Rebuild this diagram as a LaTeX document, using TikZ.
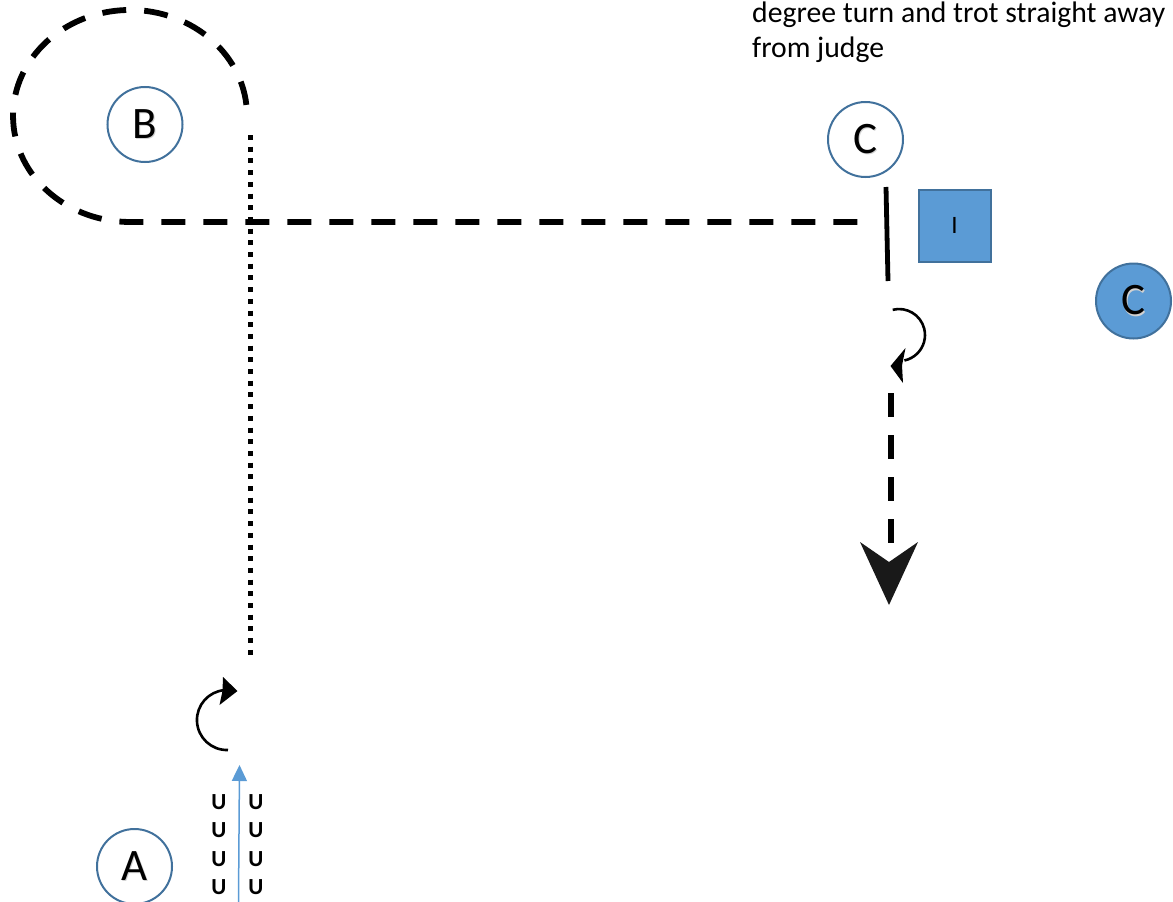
\documentclass[tikz,border=0pt]{standalone}
\usepackage{fontspec}
\setmainfont{Carlito}
\usetikzlibrary{arrows.meta}
\definecolor{bfill}{HTML}{5B9BD5}
\definecolor{bline}{HTML}{41719C}
\newcommand\shadowed[1]{\leavevmode\rlap{\kern1.2pt\raisebox{-1.5pt}{\textcolor{black!18}{#1}}}#1}
\tikzset{
 marker/.style={circle, draw=bline, line width=2pt, fill=white, minimum size=75pt, inner sep=0pt, font=\fontsize{45}{45}\selectfont},
 markerfill/.style={marker, fill=bfill},
 judgebox/.style={draw=bline, line width=2pt, fill=bfill, minimum width=72pt, minimum height=72pt, inner sep=0pt, font=\fontsize{25}{25}\selectfont},
 pathdash/.style={line width=5.8pt, dash pattern=on 24pt off 18pt},
 pathdot/.style={line width=5.5pt, dash pattern=on 5pt off 6.7pt},
 turn/.style={line width=2.6pt},
 turnhead/.style={fill=black},
 ulabel/.style={font=\fontsize{23}{23}\selectfont\bfseries, inner sep=0pt},
 note/.style={anchor=base west, inner sep=0pt, font=\fontsize{29.7}{34.5}\selectfont},
}
\begin{document}
\begin{tikzpicture}[x=1pt,y=1pt]
\useasboundingbox (0,0) rectangle (1173,-902);
% text
\node[note] (t1) at (752,-22.5) {degree turn and trot straight away};
\node[note] (t2) at (752,-57) {from judge};
% dashed loop and horizontal line
\coordinate (loopstart) at (246.4,-104.9);
\coordinate (hend) at (873,-222);
\draw[pathdash] (loopstart) arc[start angle=6, end angle=270, x radius=117, y radius=106] -- (hend);
% dotted vertical
\coordinate (dtop) at (250.5,-135);
\coordinate (dbot) at (250.5,-660);
\draw[pathdot] (dtop) -- (dbot);
% markers
\node[marker] (B) at (145,-124.5) {\shadowed{B}};
\node[marker] (C1) at (865.5,-139.5) {\shadowed{C}};
\node[marker] (A) at (134.5,-866.5) {\shadowed{A}};
\node[markerfill] (C2) at (1133.5,-301) {\shadowed{C}};
\node[judgebox] (I) at (954.5,-225.5) {I};
% solid stop line
\coordinate (s1) at (886,-187);
\coordinate (s2) at (888,-281);
\draw[line width=4.8pt] (s1) -- (s2);
% right turn arrow
\coordinate (rt) at (892.7,-309.8);
\draw[turn] (rt) arc[start angle=104, end angle=-78, radius=26];
\coordinate (rh1) at (905.5,-348);
\coordinate (rhtip) at (890.5,-366);
\coordinate (rh2) at (903,-383);
\coordinate (rhn) at (902,-365.5);
\fill[turnhead] (rh1) -- (rhtip) -- (rh2) -- (rhn) -- cycle;
% left turn arrow
\coordinate (lt) at (228,-750);
\draw[turn] (lt) arc[start angle=272, end angle=95, radius=30];
\coordinate (lh1) at (223,-677);
\coordinate (lhtip) at (237.5,-691);
\coordinate (lh2) at (219.5,-705);
\coordinate (lhn) at (222.5,-691);
\fill[turnhead] (lh1) -- (lhtip) -- (lh2) -- (lhn) -- cycle;
% dashed trot away arrow
\coordinate (v1) at (891,-393);
\coordinate (v2) at (891,-543);
\draw[pathdash] (v1) -- (v2);
\coordinate (tipL) at (860,-542);
\coordinate (tip) at (889,-605);
\coordinate (tipR) at (918,-542);
\coordinate (notch) at (889,-562);
\fill[black!90] (tipL) -- (tip) -- (tipR) -- (notch) -- cycle;
% blue arrow
\coordinate (b1) at (238.5,-902);
\coordinate (b2) at (239.5,-765);
\draw[bfill, line width=1.5pt, -{Triangle[length=16pt,width=15pt]}] (b1) -- (b2);
% U marks
\foreach \yy [count=\i] in {802,830,859,887}{
  \node[ulabel] (ul\i) at (219,-\yy) {U};
  \node[ulabel] (ur\i) at (256,-\yy) {U};
}
\end{tikzpicture}
\end{document}
